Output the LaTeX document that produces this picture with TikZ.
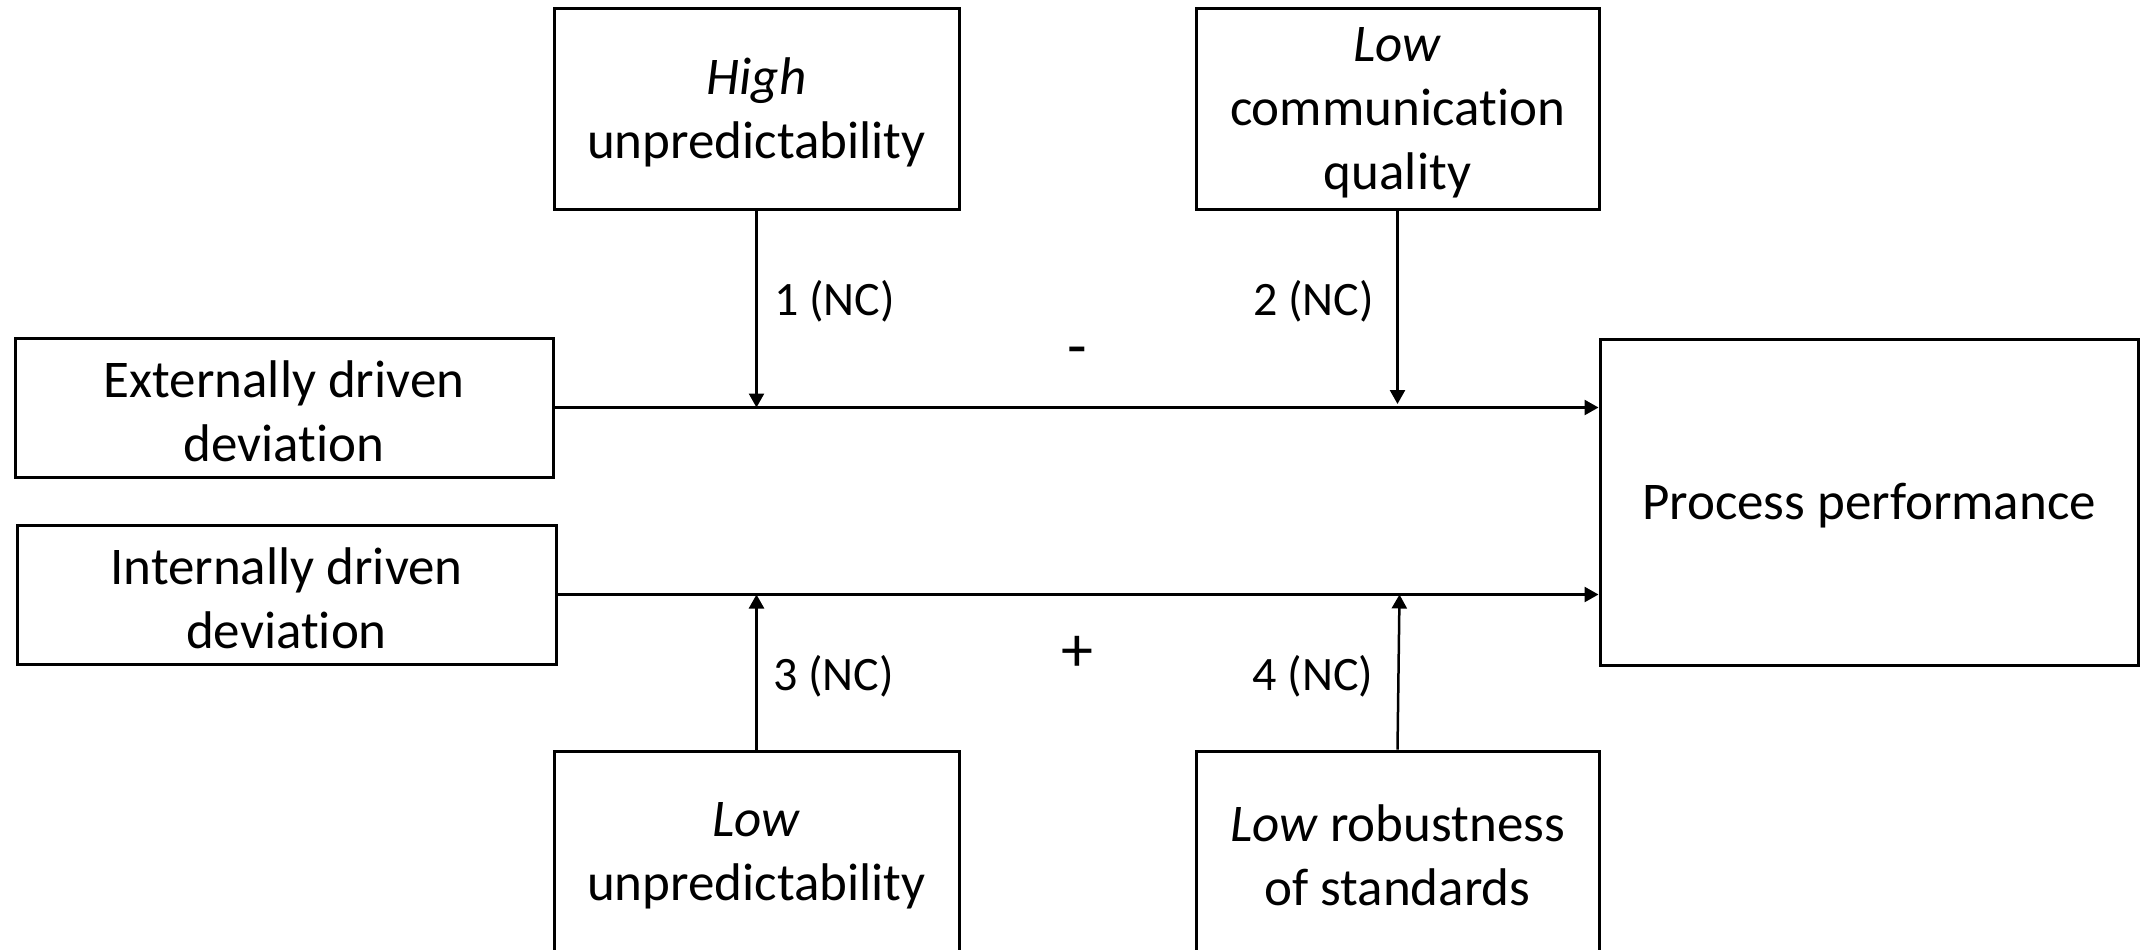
\documentclass[tikz,border=0pt]{standalone}
\usepackage{fontspec}
\setmainfont{Carlito}[Ligatures=NoCommon]
\usetikzlibrary{arrows.meta}
\begin{document}
\begin{tikzpicture}[x=0.5pt,y=-0.5pt,
  box/.style={draw, line width=1.5pt, rectangle, inner sep=0pt},
  boxtext/.style={align=center, inner sep=0pt, yshift=-2pt,
              font=\fontsize{26.5}{32}\selectfont},
  link/.style={line width=1.25pt, -{Triangle[length=7pt,width=7.5pt]}},
  tag/.style={font=\fontsize{24}{28}\selectfont, anchor=base, inner sep=0pt},
  sign/.style={font=\fontsize{32}{36}\selectfont, anchor=base, inner sep=0pt}]
\useasboundingbox (0,0) rectangle (2141,949);
\clip (0,0) rectangle (2141,949);

% moderators above the lines
\node[box, minimum width=202.5pt, minimum height=100.5pt] (hu) at (756.5,108.5) {};
\node[boxtext] (hu-txt) at (hu.center) {\textit{High}\\unpredictability};
\node[box, minimum width=201.5pt, minimum height=100.5pt] (lc) at (1397.5,108.5) {};
\node[boxtext] (lc-txt) at (lc.center) {\textit{Low}\\communication\\quality};

% independent variables
\node[box, minimum width=269pt, minimum height=69.5pt] (ext) at (284,407.5) {};
\node[boxtext] (ext-txt) at (ext.center) {Externally driven\\deviation};
\node[box, minimum width=269.5pt, minimum height=69.5pt] (int) at (286.5,594.5) {};
\node[boxtext] (int-txt) at (int.center) {Internally driven\\deviation};

% dependent variable
\node[box, minimum width=269pt, minimum height=163pt] (pp) at (1869,502) {};
\node[boxtext] (pp-txt) at (pp.center) {Process performance};

% moderators below the lines
\node[box, minimum width=202.5pt, minimum height=100.5pt] (lu) at (756.5,851.5) {};
\node[boxtext] (lu-txt) at (lu.center) {\textit{Low}\\unpredictability};
\node[box, minimum width=201.5pt, minimum height=100.5pt] (lr) at (1397.5,851.5) {};
\node[boxtext] (lr-txt) at (lr.center) {\textit{Low} robustness\\of standards};

% main effects
\draw[link] (ext.east) -- (ext.east -| pp.west);
\draw[link] (int.east) -- (int.east -| pp.west);

% moderating effects
\coordinate (j1) at (hu.south |- ext.east);
\coordinate (j2) at (1397.5,404);
\coordinate (j3) at (lu.north |- int.east);
\coordinate (j4) at (1399.5,594.5);
\draw[link] (hu.south) -- (j1);
\draw[link] (lc.south) -- (j2);
\draw[link] (lu.north) -- (j3);
\draw[link] (lr.north) -- (j4);

% labels
\node[tag] (t1) at (834.5,315) {1 (NC)};
\node[tag] (t2) at (1313.5,315) {2 (NC)};
\node[tag] (t3) at (833.5,690) {3 (NC)};
\node[tag] (t4) at (1313,690) {4 (NC)};
\node[sign] (neg) at (1077,367) {-};
\node[sign] (pos) at (1077,671) {+};
\end{tikzpicture}
\end{document}
